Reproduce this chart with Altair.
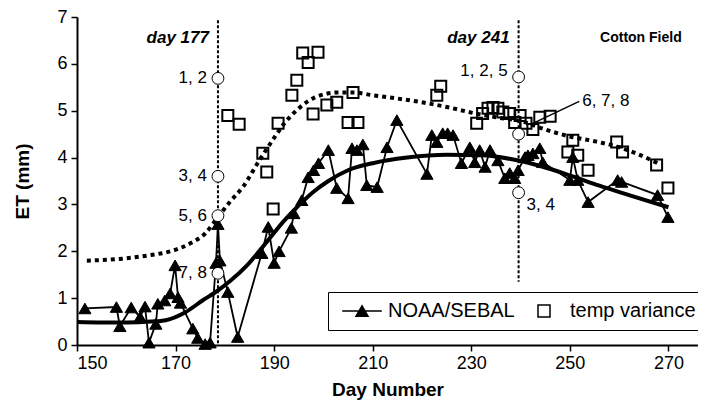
import altair as alt
import pandas as pd

# NOAA/SEBAL daily ET (triangles)
noaa_day = [151.6, 158.0, 158.7, 161.0, 162.8, 163.8, 164.6, 166.0, 166.4, 167.8, 168.9, 169.9,
            170.5, 171.0, 173.5, 174.5, 176.0, 177.0, 178.2, 178.6, 179.0, 180.6, 182.6, 187.5,
            188.8, 190.0, 191.0, 193.5, 194.0, 195.6, 196.9, 198.0, 199.0, 201.0, 202.7, 205.0,
            205.8, 206.8, 208.0, 208.8, 210.9, 212.9, 214.9, 221.0, 222.0, 223.0, 224.2, 225.2,
            226.3, 228.0, 229.7, 230.7, 231.7, 232.8, 233.8, 235.4, 236.8, 237.8, 238.8, 239.5,
            240.9, 241.5, 242.5, 243.9, 244.5, 250.0, 250.6, 251.6, 253.7, 259.7, 260.5, 267.8, 269.9]
noaa_et = [0.78, 0.81, 0.40, 0.80, 0.60, 0.82, 0.05, 0.45, 0.88, 0.95, 1.10, 1.70,
           1.02, 0.90, 0.35, 0.15, 0.02, 0.05, 1.75, 2.58, 1.80, 1.13, 0.17, 1.96,
           2.52, 1.75, 2.00, 2.50, 2.81, 3.09, 3.58, 3.73, 3.88, 4.16, 3.35, 3.13,
           4.20, 4.16, 4.28, 3.41, 3.37, 4.22, 4.80, 3.65, 4.48, 4.33, 4.52, 4.52,
           4.48, 3.88, 4.22, 3.90, 4.16, 3.80, 4.16, 3.94, 3.56, 3.67, 3.56, 3.73,
           4.01, 4.05, 4.09, 4.20, 3.90, 3.52, 4.01, 3.52, 3.05, 3.52, 3.48, 3.20, 2.73]

# temp variance ET (open squares)
tv_day = [180.6, 182.9, 187.7, 188.5, 189.8, 190.8, 193.6, 194.6, 195.8, 196.9, 198.9, 197.9,
          200.7, 202.7, 205.0, 206.0, 207.0, 223.0, 223.8, 231.1, 232.3, 233.4, 234.4, 235.4,
          236.4, 237.8, 238.8, 239.9, 241.1, 242.5, 243.9, 246.0, 249.6, 250.6, 251.6, 253.7,
          259.5, 260.7, 267.6, 269.9]
tv_et = [4.90, 4.71, 4.09, 3.69, 2.90, 4.73, 5.33, 5.65, 6.23, 6.03, 6.25, 4.93,
         5.12, 5.18, 4.75, 5.39, 4.75, 5.33, 5.52, 4.73, 4.94, 5.05, 5.07, 5.05,
         4.97, 4.94, 4.75, 4.90, 4.73, 4.60, 4.86, 4.88, 4.12, 4.37, 4.05, 3.73,
         4.33, 4.12, 3.84, 3.35]

# fitted curves
fit_noaa_day = [150, 155, 160, 165, 168, 172, 175.6, 178, 181, 184.5, 188.5, 192, 195, 198, 201,
                205, 210, 217, 225, 232, 238, 244, 250, 256, 262, 270]
fit_noaa_et = [0.49, 0.48, 0.48, 0.50, 0.53, 0.70, 0.96, 1.12, 1.36, 1.70, 2.20, 2.65, 2.98, 3.27, 3.50,
               3.73, 3.88, 4.00, 4.06, 4.05, 3.97, 3.82, 3.62, 3.40, 3.20, 2.94]
fit_tv_day = [152, 160, 165, 169, 173, 176, 178.6, 181, 183.7, 187, 190, 192, 195, 198, 203, 206,
              210, 215, 220, 225, 230, 235, 240, 245, 250, 255, 260, 265, 268]
fit_tv_et = [1.80, 1.85, 1.92, 2.00, 2.17, 2.38, 2.73, 3.05, 3.38, 3.94, 4.42, 4.72, 5.05, 5.27, 5.39, 5.39,
             5.33, 5.26, 5.18, 5.08, 4.96, 4.86, 4.78, 4.60, 4.45, 4.35, 4.22, 4.02, 3.87]

# highlighted days
vline_day = [178.6, 239.6]
vline_top = [6.93, 6.93]
vline_bottom = [0.0, 1.35]
vline_label = ["day 177", "day 241"]

circle_day = [178.6, 178.6, 178.6, 178.6, 239.6, 239.6, 239.6]
circle_et = [5.69, 3.60, 2.76, 1.53, 5.72, 4.50, 3.25]
circle_label = ["1, 2", "3, 4", "5, 6", "7, 8", "1, 2, 5", "", "3, 4"]

series_names = ["NOAA/SEBAL", "temp variance"]

FONT = "Liberation Sans"

noaa_df = pd.DataFrame({"day": noaa_day, "et": noaa_et})
tv_df = pd.DataFrame({"day": tv_day, "et": tv_et})
fitn_df = pd.DataFrame({"day": fit_noaa_day, "et": fit_noaa_et})
fitt_df = pd.DataFrame({"day": fit_tv_day, "et": fit_tv_et})
vl_df = pd.DataFrame({"day": vline_day, "top": vline_top, "bottom": vline_bottom, "label": vline_label})
circ_df = pd.DataFrame({"day": circle_day, "et": circle_et, "label": circle_label})
leg_df = pd.DataFrame({"series": series_names, "day": [None, None], "et": [None, None]})

xscale = alt.Scale(domain=[150, 276], nice=False, zero=False)
yscale = alt.Scale(domain=[0, 7], nice=False)

xaxis = alt.Axis(values=[150, 170, 190, 210, 230, 250, 270], title="Day Number", grid=False,
                 tickSize=6, tickWidth=1.5, domainWidth=2, domainColor="black", tickColor="black",
                 labelFontSize=18, labelFont=FONT, labelColor="black", labelPadding=3,
                 titleFont=FONT, titleFontSize=19, titleFontWeight="bold", titleColor="black",
                 titlePadding=8)
yaxis = alt.Axis(values=[0, 1, 2, 3, 4, 5, 6, 7], title="ET (mm)", grid=False,
                 tickSize=6, tickWidth=1.5, domainWidth=2, domainColor="black", tickColor="black",
                 labelFontSize=18, labelFont=FONT, labelColor="black", labelPadding=4,
                 titleFont=FONT, titleFontSize=19, titleFontWeight="bold", titleColor="black",
                 titlePadding=24)

X = alt.X("day:Q", scale=xscale, axis=xaxis)
Y = alt.Y("et:Q", scale=yscale, axis=yaxis)
Xn = alt.X("day:Q", scale=xscale)
Yn = alt.Y("et:Q", scale=yscale)

noaa_line = alt.Chart(noaa_df).mark_line(color="black", strokeWidth=1.8).encode(x=X, y=Y)
noaa_pts = alt.Chart(noaa_df).mark_point(shape="triangle-up", filled=True, color="black",
                                         size=150, opacity=1, stroke="black", strokeWidth=1).encode(x=Xn, y=Yn)
fit_noaa = alt.Chart(fitn_df).mark_line(color="black", strokeWidth=4, interpolate="monotone").encode(x=Xn, y=Yn)
fit_tv = alt.Chart(fitt_df).mark_line(color="black", strokeWidth=4, strokeDash=[4, 4],
                                      interpolate="monotone").encode(x=Xn, y=Yn)
tv_pts = alt.Chart(tv_df).mark_point(shape="square", filled=False, color="black", size=121,
                                     strokeWidth=2, opacity=1).encode(x=Xn, y=Yn)

vlines = alt.Chart(vl_df).mark_rule(color="black", strokeWidth=2, strokeDash=[3, 2]).encode(
    x=alt.X("day:Q", scale=xscale), y=alt.Y("top:Q", scale=yscale), y2="bottom:Q")
vtext = alt.Chart(vl_df).mark_text(align="right", baseline="middle", dx=-9, font=FONT, fontSize=17,
                                   fontWeight="bold", fontStyle="italic", color="black").encode(
    x=alt.X("day:Q", scale=xscale), y=alt.value(38 - 17), text="label:N")

circles = alt.Chart(circ_df).mark_point(shape="circle", filled=True, fill="white", stroke="black",
                                        strokeWidth=1, size=140, opacity=1).encode(x=Xn, y=Yn)

left_lab = alt.Chart(circ_df.iloc[[0, 1, 2, 3]]).mark_text(align="right", baseline="middle", dx=-11,
                                                           font=FONT, fontSize=17, color="black").encode(
    x=Xn, y=Yn, text="label:N")
lab125 = alt.Chart(circ_df.iloc[[4]]).mark_text(align="right", baseline="middle", dx=-11, dy=-6,
                                                font=FONT, fontSize=17, color="black").encode(
    x=Xn, y=Yn, text="label:N")
lab34 = alt.Chart(circ_df.iloc[[6]]).mark_text(align="left", baseline="middle", dx=8, dy=12,
                                               font=FONT, fontSize=17, color="black").encode(
    x=Xn, y=Yn, text="label:N")

lead_df = pd.DataFrame({"day": [242.5], "et": [4.73], "day2": [251.9], "et2": [5.20], "label": ["6, 7, 8"]})
leader = alt.Chart(lead_df).mark_rule(color="black", strokeWidth=1.5).encode(
    x=Xn, y=Yn, x2="day2:Q", y2="et2:Q")
lead_text = alt.Chart(lead_df).mark_text(align="left", baseline="middle", dx=3, font=FONT, fontSize=17,
                                         color="black").encode(
    x=alt.X("day2:Q", scale=xscale), y=alt.Y("et2:Q", scale=yscale), text="label:N")

cot_df = pd.DataFrame({"day": [272.7], "label": ["Cotton Field"]})
cotton = alt.Chart(cot_df).mark_text(align="right", baseline="middle", font=FONT, fontSize=14,
                                     fontWeight="bold", color="black").encode(
    x=Xn, y=alt.value(38 - 17), text="label:N")

tri_line_path = "M-3.3,0H3.3M0,-0.87L-1,0.87L1,0.87Z"
legend_layer = alt.Chart(leg_df).mark_point(opacity=1, strokeWidth=1.5).encode(
    x=Xn, y=Yn,
    shape=alt.Shape("series:N", scale=alt.Scale(domain=series_names, range=[tri_line_path, "square"]),
                    legend=alt.Legend(title=None, orient="none", legendX=251, legendY=275,
                                      direction="horizontal", strokeColor="black", fillColor="white",
                                      padding=9, labelFontSize=20, labelFont=FONT, labelColor="black",
                                      symbolSize=144, symbolStrokeColor="black", symbolStrokeWidth=1.5,
                                      symbolOpacity=1,
                                      symbolOffset=15, labelOffset=16, columnPadding=4)),
    fill=alt.Fill("series:N", scale=alt.Scale(domain=series_names, range=["black", "white"]), legend=None),
    stroke=alt.Stroke("series:N", scale=alt.Scale(domain=series_names, range=["black", "#000000"]), legend=None),
)

chart = alt.layer(
    noaa_line, noaa_pts, fit_noaa, fit_tv, tv_pts, vlines, leader, circles,
    left_lab, lab125, lab34, lead_text, vtext, cotton, legend_layer
).properties(
    width=621, height=328,
    autosize=alt.AutoSizeParams(type="none"),
    padding={"left": 69, "top": 9, "right": 0, "bottom": 55},
    background="white",
).configure_view(stroke=None)

chart.save("out.html", embed_options={"renderer": "svg", "actions": False})
